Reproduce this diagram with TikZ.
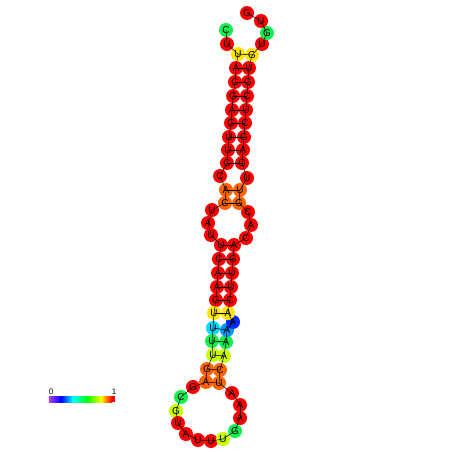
\documentclass[tikz,border=0pt]{standalone}
\usepackage{fontspec}
\setmainfont{Liberation Sans}
\usetikzlibrary{positioning}
\definecolor{ntred}{HTML}{FF0000}
\definecolor{ntorange}{HTML}{FF6400}
\definecolor{ntyellow}{HTML}{FFE400}
\definecolor{ntlime}{HTML}{C8FF00}
\definecolor{ntgreen}{HTML}{10F050}
\definecolor{ntcyan}{HTML}{00D8FF}
\definecolor{ntsky}{HTML}{0098FF}
\definecolor{ntblue}{HTML}{0028FF}
\definecolor{ntviolet}{HTML}{B040FF}

% nucleotide: index/x/y/base/colour, in pixels of the 452 px frame
\def\ntlist{1/226/30/C/ntgreen, 2/227/44/U/ntred, 3/238/54/U/ntyellow,
  4/236/68/A/ntred, 5/235/82/C/ntred, 6/233/96/G/ntred, 7/232/110/A/ntred,
  8/231/123/G/ntred, 9/229/137/U/ntred, 10/228/150/U/ntred, 11/227/163/C/ntred,
  12/220/176/C/ntred, 13/226/190/A/ntorange, 14/225/203/C/ntorange,
  15/212/210/U/ntred, 16/208/223/A/ntred, 17/211/235/U/ntred,
  18/221/245/U/ntred, 19/219/259/C/ntred, 20/218/273/A/ntred, 21/217/287/A/ntred,
  22/216/300/G/ntred, 23/214/313/U/ntyellow, 24/213/328/U/ntcyan,
  25/212/341/U/ntgreen, 26/213/355/U/ntlime, 27/207/369/G/ntorange,
  28/206/382/A/ntorange, 29/193/387/G/ntred, 30/181/397/C/ntgreen,
  31/176/411/G/ntlime, 32/178/423/U/ntred, 33/186/434/A/ntred, 34/198/440/U/ntred,
  35/211/441/U/ntred, 36/223/439/U/ntlime, 37/235/431/G/ntgreen,
  38/240/418/A/ntred, 39/240/405/A/ntred, 40/232/393/A/ntred,
  41/219/383/U/ntorange, 42/220/370/C/ntorange, 43/224/356/A/ntlime,
  44/226/342/A/ntgreen, 45/227/330/A/ntsky, 46/233/322/A/ntblue,
  47/228/313/A/ntyellow, 48/230/300/C/ntred, 49/231/287/U/ntred,
  50/232/273/U/ntred, 51/233/259/G/ntred, 52/234/245/A/ntred, 53/246/238/C/ntred,
  54/251/225/A/ntred, 55/248/212/C/ntred, 56/239/203/G/ntorange,
  57/240/190/U/ntorange, 58/247/178/U/ntred, 59/242/163/G/ntred,
  60/243/150/A/ntred, 61/244/137/G/ntred, 62/245/123/C/ntred, 63/246/110/U/ntred,
  64/247/96/C/ntred, 65/248/82/G/ntred, 66/249/68/U/ntred, 67/252/55/G/ntyellow,
  68/262/44/U/ntred, 69/267/33/G/ntgreen, 70/261/21/U/ntred, 71/247/13/G/ntred}

\begin{document}
\begin{tikzpicture}[x=1pt,y=-1pt,
  base/.style={circle,inner sep=0pt,minimum size=14pt},
  letter/.style={inner sep=0pt,font=\fontsize{10}{10}\selectfont},
  bond/.style={draw=black,line width=0.5pt},
  tick/.style={inner sep=0pt,font=\fontsize{8}{8}\selectfont}]
\fill[white] (0,0) rectangle (452,452);
\useasboundingbox (0,0) rectangle (452,452);

% ---- the bases ----------------------------------------------------------
\foreach \i/\x/\y/\nt/\c in \ntlist
  \node[base,fill=\c] (n\i) at (\x,\y) {};

% ---- backbone and pairs -------------------------------------------------
\foreach \i [evaluate=\i as \j using int(\i+1)] in {1,...,70}
  \draw[bond] (n\i.center) -- (n\j.center);
\foreach \p/\q in {3/67,4/66,5/65,6/64,7/63,8/62,9/61,10/60,11/59,13/57,
  14/56,18/52,19/51,20/50,21/49,22/48,23/47,24/45,25/44,26/43,27/42,28/41}
  \draw[bond] (n\p.center) -- (n\q.center);

\foreach \i/\x/\y/\nt/\c in \ntlist
  \node[letter] (t\i) at (n\i) {\nt};

% ---- colour key ---------------------------------------------------------
\shade[left color=ntviolet,right color=blue] (49,396) rectangle (61,402);
\shade[left color=blue,right color=cyan] (61,396) rectangle (73,402);
\shade[left color=cyan,right color=green] (73,396) rectangle (87,402);
\shade[left color=green,right color=yellow] (87,396) rectangle (101,402);
\shade[left color=yellow,right color=red] (101,396) rectangle (112,402);
\fill[red] (112,396) rectangle (115,402);
\node[tick] (k0) at (51,392) {0};
\node[tick] (k1) at (114,392) {1};
\end{tikzpicture}
\end{document}
